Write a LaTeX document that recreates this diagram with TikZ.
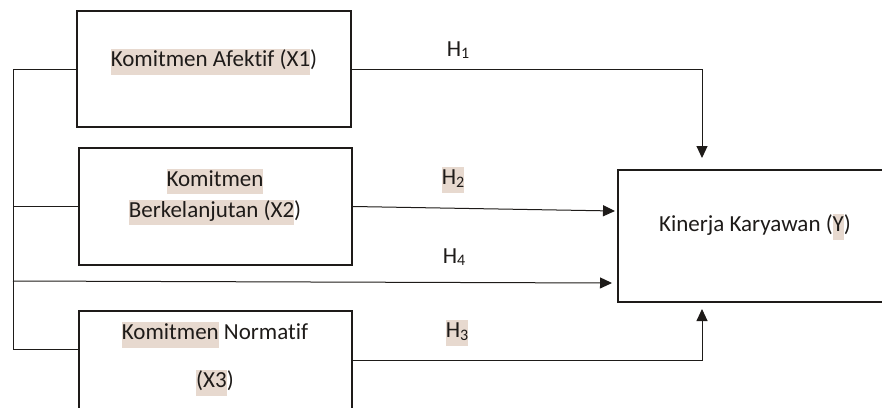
\documentclass[tikz,border=0pt]{standalone}
\usepackage{fontspec}
\setmainfont{Carlito}[Ligatures=NoCommon]
\usetikzlibrary{arrows.meta}
\definecolor{hlc}{HTML}{E7D9CF}
\definecolor{ink}{HTML}{1E1B19}
\newcommand{\hlx}[1]{{\setlength{\fboxsep}{0pt}\colorbox{hlc}{\rule[-0.34em]{0pt}{1.1em}#1}}}
\newcommand{\subx}[1]{\raisebox{-0.12em}{\fontsize{16}{16}\selectfont #1}}
\tikzset{
  box/.style={draw=ink, line width=2pt, inner sep=0pt},
  txt/.style={text=ink, font=\fontsize{23}{31}\selectfont, align=center, inner sep=0pt},
  conn/.style={draw=ink, line width=1pt},
  arr/.style={conn, -{Triangle[length=12pt,width=11pt]}}
}
\begin{document}
\begin{tikzpicture}[x=1pt,y=-1pt]
\useasboundingbox (0,0) rectangle (882,407);
\clip (0,0) rectangle (882,407);
% boxes
\node[box, minimum width=274pt, minimum height=116pt] (b1) at (214,69) {};
\node[box, minimum width=273pt, minimum height=117pt] (b2) at (215.5,206.5) {};
\node[box, minimum width=273pt, minimum height=120pt] (b3) at (215.5,371) {};
\node[box, minimum width=290pt, minimum height=132pt] (by) at (763,236) {};
% texts
\node[txt] (t1) at (214,62) {\hlx{Komitmen Afektif (X1})};
\node[txt] (t2) at (215,197) {\hlx{Komitmen}\\\hlx{Berkelanjutan (X2})};
\node[txt] (t3) at (215,359) {\hlx{Komitmen} Normatif\\[17pt]\hlx{(X3})};
\node[txt] (ty) at (755,227) {Kinerja Karyawan (\hlx{Y})};
% hypothesis labels
\node[txt] (h1) at (458,50) {H\subx{1}};
\node[txt] (h2) at (453,180) {\hlx{H\subx{2}}};
\node[txt] (h4) at (454,257) {H\subx{4}};
\node[txt] (h3) at (457,333) {\hlx{H\subx{3}}};
% coordinates
\coordinate (bt) at (13,69);
\coordinate (bb) at (13,349);
\coordinate (bm) at (13,281);
\coordinate (p1) at (702,69);
\coordinate (e1) at (702,158);
\coordinate (e2) at (615,211);
\coordinate (e4) at (612,283);
\coordinate (p3) at (702,360);
\coordinate (e3) at (702,309);
% left bus
\draw[conn] (b1.west) -- (bt) -- (bb) -- (bb -| b3.west);
\draw[conn] (b2.west) -- (b2.west -| bt);
% arrows
\draw[arr] (b1.east) -- (p1) -- (e1);
\draw[arr] (b2.east) -- (e2);
\draw[arr] (bm) -- (e4);
\draw[arr] (b3.east |- p3) -- (p3) -- (e3);
\end{tikzpicture}
\end{document}
